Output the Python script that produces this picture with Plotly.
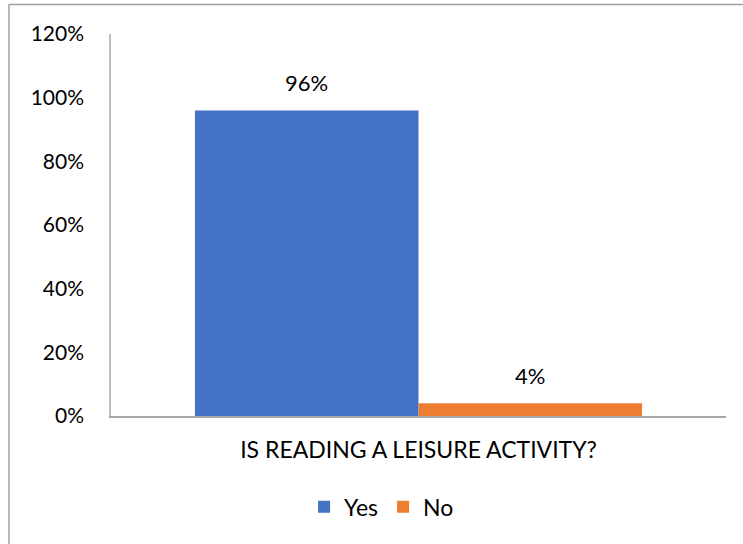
import plotly.graph_objects as go

category = ["IS READING A LEISURE ACTIVITY?"]
series_names = ["Yes", "No"]
series_values = [[0.96], [0.04]]
series_colors = ["#4472C4", "#ED7D31"]
y_ticks = [0, 0.2, 0.4, 0.6, 0.8, 1.0, 1.2]
y_tick_labels = ["0%", "20%", "40%", "60%", "80%", "100%", "120%"]

FONT = "Lato, Carlito, Calibri, sans-serif"
bargap = 0.273

fig = go.Figure()
for name, vals, col in zip(series_names, series_values, series_colors):
    fig.add_trace(go.Bar(x=category, y=vals, name=name, marker_color=col,
                         marker_line_width=0))

n = len(series_names)
bw = (1 - bargap) / n
annotations = []
for i, vals in enumerate(series_values):
    for j, v in enumerate(vals):
        xpos = j - (1 - bargap) / 2 + bw * (i + 0.5)
        annotations.append(dict(x=xpos, y=v, xref="x", yref="y",
                                text=f"{round(v*100)}%", showarrow=False,
                                yanchor="bottom", yshift=12,
                                font=dict(family=FONT, size=22, color="#000")))

shapes = [
    dict(type="line", xref="paper", yref="paper", x0=-0.1659, x1=-0.1659,
         y0=-0.4, y1=1.0772, line=dict(color="#A0A0A0", width=1.5)),
    dict(type="line", xref="paper", yref="paper", x0=-0.1659, x1=1.05,
         y0=1.0772, y1=1.0772, line=dict(color="#A0A0A0", width=1.5)),
]

fig.update_layout(
    width=743, height=544,
    margin=dict(l=111, r=17, t=34, b=128),
    paper_bgcolor="white", plot_bgcolor="white",
    barmode="group", bargap=bargap, bargroupgap=0,
    font=dict(family=FONT, size=21, color="#000"),
    showlegend=True,
    legend=dict(orientation="h", x=0.44, xanchor="center", y=-0.238,
                yanchor="middle", font=dict(size=23), traceorder="normal"),
    annotations=annotations,
    shapes=shapes,
    xaxis=dict(showline=True, linecolor="#A6A6A6", linewidth=1.5,
               showgrid=False, ticks="", ticklabelstandoff=13,
               tickfont=dict(size=23)),
    yaxis=dict(range=[0, 1.2], tickvals=y_ticks, ticktext=y_tick_labels,
               showline=True, linecolor="#BFBFBF", linewidth=1.5,
               showgrid=False, zeroline=False, ticks="",
               ticklabelstandoff=21, tickfont=dict(size=21)),
)

fig.write_html("out.html")
